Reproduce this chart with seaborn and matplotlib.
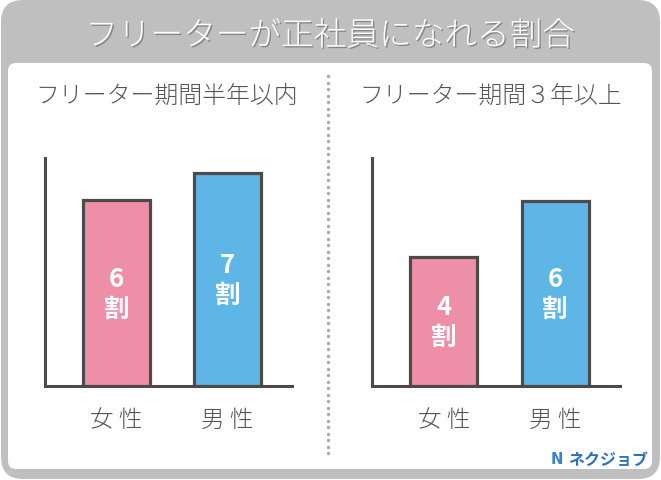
import numpy as np
import pandas as pd
import matplotlib
matplotlib.use("Agg")
import matplotlib.pyplot as plt
import matplotlib.patheffects as pe
from matplotlib.patches import FancyBboxPatch
import seaborn as sns

# ---- data ----
title = "フリーターが正社員になれる割合"
panel_titles = ["フリーター期間半年以内", "フリーター期間３年以上"]
categories = ["女 性", "男 性"]
values_short = [6.05, 6.95]   # (約6割, 約7割)
values_long = [4.2, 6.03]     # (約4割, 約6割)
labels_short = ["6\n割", "7\n割"]
labels_long = ["4\n割", "6\n割"]
brand = "ネクジョブ"

pink = "#ee8fa8"
blue = "#5db6e6"
edge = "#4d4a4a"
textgray = "#555555"

sns.set_theme(style="white")
plt.rcParams['font.family'] = ['Noto Sans CJK JP', 'DejaVu Sans']

W, H = 661, 481
fig = plt.figure(figsize=(W / 100, H / 100), dpi=100)
fig.patch.set_facecolor("white")

# background frame (pixel coordinates)
bg = fig.add_axes([0, 0, 1, 1], zorder=-1)
bg.set_xlim(0, W)
bg.set_ylim(H, 0)
bg.axis("off")
bg.add_patch(FancyBboxPatch((1, 1), W - 2, H - 2,
                            boxstyle="round,pad=0,rounding_size=22",
                            fc="#bfbfbf", ec="none"))
bg.add_patch(FancyBboxPatch((8, 64), 644, 406,
                            boxstyle="round,pad=0,rounding_size=8",
                            fc="white", ec="none"))
bg.text(330, 37, title, ha="center", va="center", color="white",
        fontsize=23.5, fontweight="light",
        path_effects=[pe.withSimplePatchShadow(offset=(1, -1),
                                               shadow_rgbFace="#6f6f6f",
                                               alpha=0.7)])
dots_y = np.arange(77, 458, 6.5)
bg.plot(np.full_like(dots_y, 328), dots_y, linestyle="none", marker="o",
        ms=2.4, color="#a8a8a8", mec="none")

# panel titles
bg.text(167, 96, panel_titles[0], ha="center", va="center",
        color=textgray, fontsize=17.2, fontweight="light")
bg.text(491, 96, panel_titles[1], ha="center", va="center",
        color=textgray, fontsize=17.2, fontweight="light")

# logo
bg.text(557, 460, "N", ha="center", va="center", color="#3b7fd0",
        fontsize=10.5, fontweight="bold", family="DejaVu Sans")
bg.text(608, 460, brand, ha="center", va="center", color="#2f6fc2",
        fontsize=11.5, fontweight="bold")

# ---- bar panels ----
def panel(rect, vals, labs):
    ax = fig.add_axes(rect)
    df = pd.DataFrame({"cat": categories, "val": vals})
    sns.barplot(data=df, x="cat", y="val", hue="cat",
                palette=[pink, blue], legend=False, width=0.6,
                edgecolor=edge, linewidth=2.3, saturation=1, ax=ax)
    ax.set_xlim(-0.645, 1.58)
    ax.set_ylim(0, 7.43)
    ax.set_xlabel("")
    ax.set_ylabel("")
    ax.set_yticks([])
    ax.tick_params(axis="x", length=0, pad=15, labelsize=17,
                   labelcolor=textgray)
    for t in ax.get_xticklabels():
        t.set_fontweight("light")
    for s in ["top", "right"]:
        ax.spines[s].set_visible(False)
    for s in ["left", "bottom"]:
        ax.spines[s].set_color(edge)
        ax.spines[s].set_linewidth(2.2)
    ax.patch.set_alpha(0)
    for i, (v, lab) in enumerate(zip(vals, labs)):
        ax.text(i, v / 2, lab, ha="center", va="center", color="white",
                fontsize=18.5, fontweight="bold", linespacing=1.15)
    return ax

ax_h = 228 / H
ax_b = (H - 387) / H
panel([45 / W, ax_b, 247 / W, ax_h], values_short, labels_short)
panel([372 / W, ax_b, 248 / W, ax_h], values_long, labels_long)

fig.savefig("out.png", dpi=100)
